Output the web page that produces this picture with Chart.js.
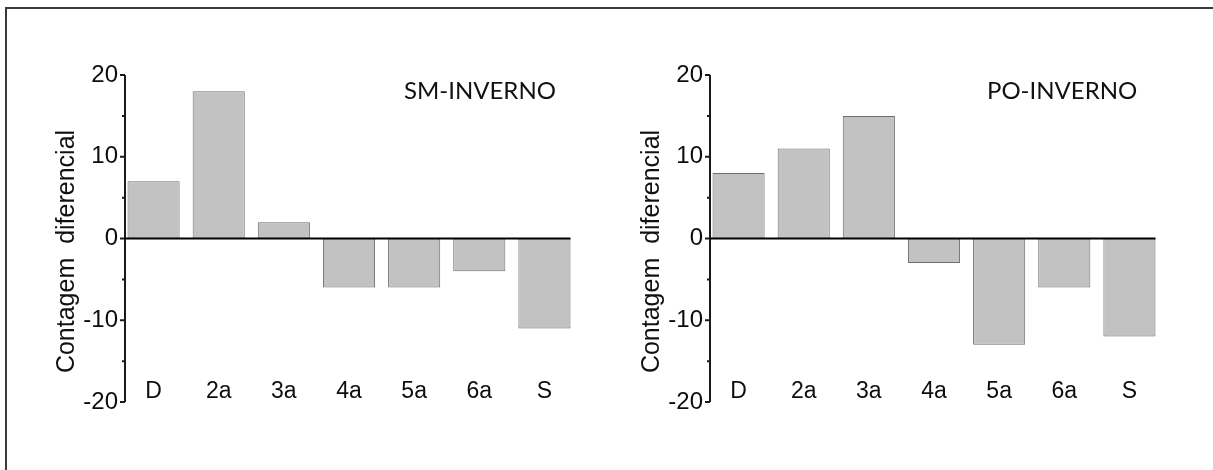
<!DOCTYPE html>
<html>
<head>
<meta charset="utf-8">
<script src="https://cdn.jsdelivr.net/npm/chart.js@4"></script>
<style>
  html, body { margin: 0; padding: 0; background: #fff; }
  body { width: 1213px; height: 470px; position: relative; overflow: hidden; }
  #frame { position: absolute; left: 5px; top: 7px; width: 1300px; height: 600px;
           border-left: 2px solid #3a3a3a; border-top: 2px solid #3a3a3a; }
  .box { position: absolute; top: 0; height: 470px; }
  #left { left: 0; width: 584px; }
  #right { left: 585px; width: 628px; }
</style>
</head>
<body>
<div id="frame"></div>
<div class="box" id="left"><canvas id="chartSM"></canvas></div>
<div class="box" id="right"><canvas id="chartPO"></canvas></div>
<script>
const categories = ['D', '2a', '3a', '4a', '5a', '6a', 'S'];
const smInverno = [7, 18, 2, -6, -6, -4, -11];
const poInverno = [8, 11, 15, -3, -13, -6, -12];
const yMin = -20;
const yMax = 20;
const yTitle = 'Contagem  diferencial';

const sans = 'Liberation Sans, Arial, sans-serif';

// axis line, major/minor ticks, zero line, y title and the panel label
const axisDrawing = {
    id: 'axisDrawing',
    afterDatasetsDraw(chart, args, opts) {
        const {ctx, chartArea, scales: {y}} = chart;
        const bars = chart.getDatasetMeta(0).data;
        const last = bars[bars.length - 1];
        const axisX = chartArea.left + opts.inset;
        const zeroY = y.getPixelForValue(0);

        ctx.save();
        ctx.strokeStyle = '#1a1a1a';
        ctx.lineWidth = 2;
        ctx.beginPath();
        ctx.moveTo(axisX, y.getPixelForValue(yMax));
        ctx.lineTo(axisX, y.getPixelForValue(yMin));
        y.ticks.forEach(t => {
            const py = y.getPixelForValue(t.value);
            const len = t.value % 10 === 0 ? 5 : 3;
            ctx.moveTo(axisX - len, py);
            ctx.lineTo(axisX, py);
        });
        ctx.stroke();

        ctx.strokeStyle = '#000';
        ctx.beginPath();
        ctx.moveTo(axisX, zeroY);
        ctx.lineTo(last.x + last.width / 2, zeroY);
        ctx.stroke();

        ctx.fillStyle = '#111';

        // rotated y title, sitting a little below the axis middle
        ctx.save();
        ctx.translate(chartArea.left - 54, (chartArea.top + chartArea.bottom) / 2 + 13);
        ctx.rotate(-Math.PI / 2);
        ctx.font = '25px ' + sans;
        ctx.textAlign = 'center';
        ctx.textBaseline = 'middle';
        ctx.fillText(yTitle, 0, 0);
        ctx.restore();

        ctx.font = '24px Lato';
        ctx.textAlign = 'left';
        ctx.textBaseline = 'alphabetic';
        ctx.fillText(opts.label, chartArea.left + opts.labelX, chartArea.top + 24);
        ctx.restore();
    }
};

function makeChart(id, values, label, labelX, padRight) {
    return new Chart(document.getElementById(id), {
        type: 'bar',
        data: {
            labels: categories,
            datasets: [{
                data: values,
                backgroundColor: '#c2c2c2',
                borderColor: '#6e6e6e',
                borderWidth: 1,
                borderSkipped: false,
                barPercentage: 0.8,
                categoryPercentage: 1
            }]
        },
        options: {
            responsive: true,
            maintainAspectRatio: false,
            animation: false,
            layout: {
                padding: {left: 54, top: 75, right: padRight, bottom: 68}
            },
            plugins: {
                legend: {display: false},
                tooltip: {enabled: false},
                axisDrawing: {inset: 4, label: label, labelX: labelX}
            },
            scales: {
                x: {
                    grid: {display: false, drawTicks: false},
                    border: {display: false},
                    ticks: {
                        mirror: true,
                        padding: -3,
                        maxRotation: 0,
                        color: '#0d0d0d',
                        font: {family: sans, size: 23}
                    },
                    afterFit(scale) { scale.height = 0; }
                },
                y: {
                    min: yMin,
                    max: yMax,
                    grid: {display: false, drawTicks: false},
                    border: {display: false},
                    ticks: {
                        stepSize: 5,
                        padding: 3,
                        color: '#0d0d0d',
                        font: {family: sans, size: 24},
                        callback: v => (v % 10 === 0 ? String(v) : '')
                    },
                    afterFit(scale) { scale.width = 67; }
                }
            }
        },
        plugins: [axisDrawing]
    });
}

const smChart = makeChart('chartSM', smInverno, 'SM-INVERNO', 283, 7);
const poChart = makeChart('chartPO', poInverno, 'PO-INVERNO', 281, 51);
</script>
</body>
</html>
